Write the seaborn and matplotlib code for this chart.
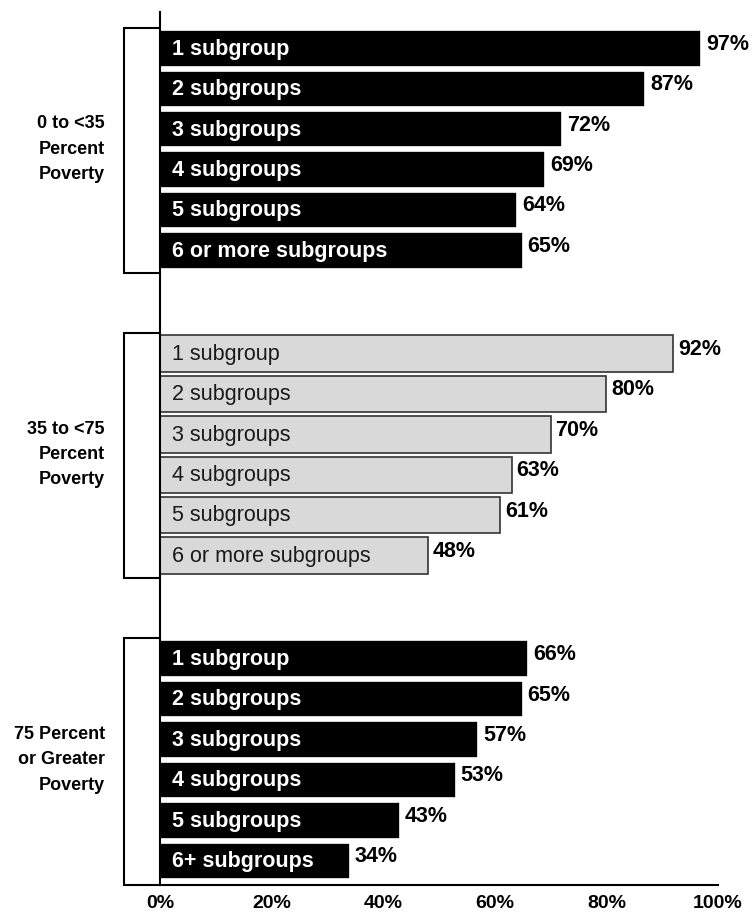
import pandas as pd
import matplotlib.pyplot as plt
import seaborn as sns

# Data
groups = ['0 to <35\nPercent\nPoverty', '35 to <75\nPercent\nPoverty', '75 Percent\nor Greater\nPoverty']
labels_low = ['1 subgroup', '2 subgroups', '3 subgroups', '4 subgroups', '5 subgroups', '6 or more subgroups']
labels_mid = ['1 subgroup', '2 subgroups', '3 subgroups', '4 subgroups', '5 subgroups', '6 or more subgroups']
labels_high = ['1 subgroup', '2 subgroups', '3 subgroups', '4 subgroups', '5 subgroups', '6+ subgroups']
values_low = [97, 87, 72, 69, 64, 65]
values_mid = [92, 80, 70, 63, 61, 48]
values_high = [66, 65, 57, 53, 43, 34]

sns.set_style('white')
plt.rcParams['font.family'] = ['Liberation Sans', 'DejaVu Sans']
plt.rcParams['text.color'] = 'black'
plt.rcParams['xtick.color'] = 'black'

group_gap = 7.55
rows = []
for g, (labs, vals) in enumerate([(labels_low, values_low), (labels_mid, values_mid), (labels_high, values_high)]):
    for i, (lab, v) in enumerate(zip(labs, vals)):
        rows.append({'group': g, 'label': lab, 'value': v, 'pos': g * group_gap + i})
data = pd.DataFrame(rows)

fig = plt.figure(figsize=(7.53, 9.15), dpi=100)
ax = fig.add_axes([0.2125, 0.0328, 0.741, 0.9541])

styles = {0: ('black', 'white', 'white', 'bold'),
          1: ('#d9d9d9', '#333333', '#1a1a1a', 'normal'),
          2: ('black', 'white', 'white', 'bold')}

for g in range(3):
    sub = data[data['group'] == g]
    face, edge, txt, weight = styles[g]
    sns.barplot(data=sub, x='value', y='pos', orient='h', native_scale=True,
                color=face, saturation=1, width=0.9, edgecolor=edge,
                linewidth=1.2, ax=ax)
    for _, r in sub.iterrows():
        ax.text(2.2, r['pos'] + 0.02, r['label'], color=txt, fontsize=15.5,
                fontweight=weight, va='center', ha='left')
        ax.text(r['value'] + 0.9, r['pos'] - 0.1, f"{r['value']}%", color='black',
                fontsize=15.5, fontweight='bold', va='center', ha='left')
    # bracket and group label
    top = g * group_gap - 0.5
    bot = g * group_gap + 5.55 if g < 2 else g * group_gap + 5.6
    ax.plot([0, -6.5, -6.5, 0], [top, top, bot, bot], color='black', lw=1.5,
            clip_on=False, solid_joinstyle='miter')
    ax.text(-9.9, g * group_gap + 2.5, groups[g], ha='right', va='center',
            fontsize=13, fontweight='bold', linespacing=1.65, color='black')

ax.set_xlim(0, 100)
ax.set_ylim(2 * group_gap + 5.6, -0.9)
ax.set_xticks([0, 20, 40, 60, 80, 100])
ax.set_xticklabels(['0%', '20%', '40%', '60%', '80%', '100%'], fontsize=14, fontweight='bold')
ax.set_yticks([])
ax.set_xlabel('')
ax.set_ylabel('')
ax.tick_params(axis='x', length=0, pad=7, colors='black')
for s in ['top', 'right']:
    ax.spines[s].set_visible(False)
for s in ['left', 'bottom']:
    ax.spines[s].set_color('black')
    ax.spines[s].set_linewidth(1.5)

fig.savefig('out.png', dpi=100)
